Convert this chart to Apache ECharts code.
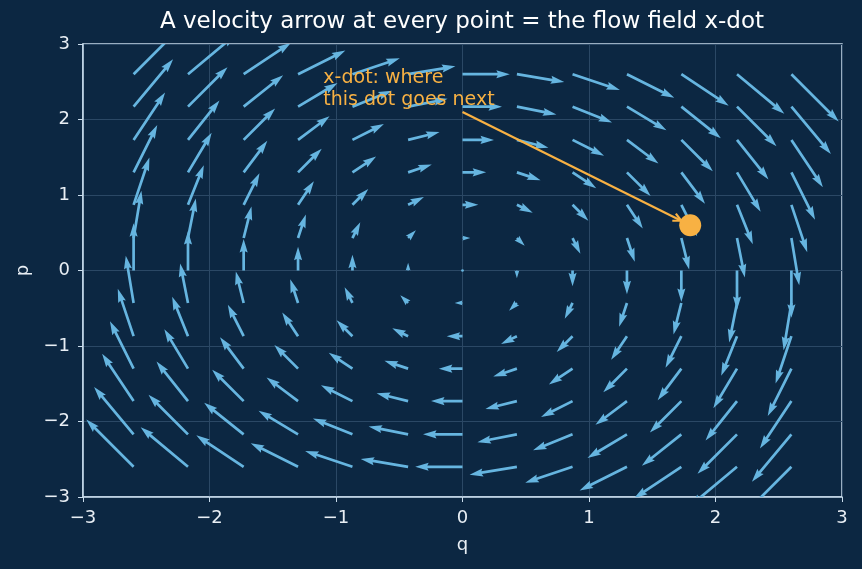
<!DOCTYPE html>
<html>
<head>
<meta charset="utf-8">
<script src="https://cdn.jsdelivr.net/npm/echarts@6/dist/echarts.min.js"></script>
<style>
  html, body { margin: 0; padding: 0; background: #0c2742; }
  #chart { width: 862px; height: 569px; }
</style>
</head>
<body>
<div id="chart"></div>
<script>
// grid of sample points (q across, p up)
var qGrid = [-2.6, -2.17, -1.73, -1.3, -0.87, -0.43, 0, 0.43, 0.87, 1.3, 1.73, 2.17, 2.6];
var pGrid = [-2.6, -2.17, -1.73, -1.3, -0.87, -0.43, 0, 0.43, 0.87, 1.3, 1.73, 2.17, 2.6];
// q-dot (same along a row)
var qDotByRow = [-2.6, -2.17, -1.73, -1.3, -0.87, -0.43, 0, 0.43, 0.87, 1.3, 1.73, 2.17, 2.6];
// p-dot (same down a column)
var pDotByCol = [2.6, 2.17, 1.73, 1.3, 0.87, 0.43, 0, -0.43, -0.87, -1.3, -1.73, -2.17, -2.6];
// the highlighted point and where its label sits
var dotPoint = [1.8, 0.6];
var labelPoint = [-1.1, 2.2];
var arrowStart = [0, 2.1];
var labelText = 'x-dot: where\nthis dot goes next';

var BG = '#0c2742', ARROW = '#66b5e0', ORANGE = '#f8b143', SPINE = '#c9dcec', GRIDC = '#2b4865';
var PX_PER_UNIT = 18.2; // arrow length in pixels for unit speed
var W = 2.7;            // shaft width

var fieldData = [];
for (var i = 0; i < pGrid.length; i++) {
	for (var j = 0; j < qGrid.length; j++) {
		fieldData.push([qGrid[j], pGrid[i], qDotByRow[i], pDotByCol[j]]);
	}
}

// quiver-style arrow polygon, tail at the grid point
function renderArrow(params, api) {
	var tail = api.coord([api.value(0), api.value(1)]);
	var dx = api.value(2) * PX_PER_UNIT, dy = -api.value(3) * PX_PER_UNIT;
	var L = Math.sqrt(dx * dx + dy * dy) / W;
	if (L < 1) {
		return { type: 'circle', shape: { cx: tail[0], cy: tail[1], r: W / 2 }, style: { fill: ARROW } };
	}
	var hl = 5, hal = 4.5, hw = 3, xs, ys;
	if (L >= hl) {
		xs = [0, L - hal, L - hl, L];
		ys = [0.5, 0.5, hw / 2, 0];
	} else {
		var s = L / hl;
		xs = [0, (hl - hal) * s, 0, L];
		ys = [0.5 * s, 0.5 * s, hw / 2 * s, 0];
	}
	var local = [[xs[0], ys[0]], [xs[1], ys[1]], [xs[2], ys[2]], [xs[3], 0],
		[xs[2], -ys[2]], [xs[1], -ys[1]], [xs[0], -ys[0]]];
	var ang = Math.atan2(dy, dx), c = Math.cos(ang), sn = Math.sin(ang);
	var pts = local.map(function (p) {
		var x = p[0] * W, y = p[1] * W;
		return [tail[0] + x * c - y * sn, tail[1] + x * sn + y * c];
	});
	return { type: 'polygon', shape: { points: pts }, style: { fill: ARROW } };
}

// orange annotation: text, line and "->" head stopping at the dot
function renderNote(params, api) {
	var a = api.coord(arrowStart), b = api.coord(dotPoint), t = api.coord(labelPoint);
	var dx = b[0] - a[0], dy = b[1] - a[1], d = Math.sqrt(dx * dx + dy * dy);
	var ux = dx / d, uy = dy / d;
	var tip = [b[0] - ux * 10, b[1] - uy * 10];
	var hl = 8, hw = 4;
	var base = [tip[0] - ux * hl, tip[1] - uy * hl];
	return {
		type: 'group',
		children: [
			{ type: 'line', shape: { x1: a[0], y1: a[1], x2: tip[0], y2: tip[1] },
				style: { stroke: ORANGE, lineWidth: 2.2 } },
			{ type: 'polyline', shape: { points: [
				[base[0] - uy * hw, base[1] + ux * hw], tip, [base[0] + uy * hw, base[1] - ux * hw]] },
				style: { stroke: ORANGE, lineWidth: 2.2, fill: null } },
			{ type: 'text', x: t[0], y: t[1] + 7,
				style: { text: labelText, fill: ORANGE, font: '19px "DejaVu Sans"', align: 'left',
					verticalAlign: 'bottom', lineHeight: 22 } }
		]
	};
}

function minus(v) { return String(v).replace('-', '\u2212'); }

var myChart = echarts.init(document.getElementById('chart'));
var option = {
	backgroundColor: BG,
	animation: false,
	textStyle: { fontFamily: 'DejaVu Sans' },
	title: {
		text: 'A velocity arrow at every point = the flow field x-dot',
		left: 462, top: 11, textAlign: 'center', padding: 0,
		textStyle: { color: '#ffffff', fontSize: 23, fontWeight: 'normal', fontFamily: 'DejaVu Sans' }
	},
	grid: { left: 83, right: 20, top: 44, bottom: 72, show: true, borderColor: SPINE, borderWidth: 1.5, backgroundColor: 'transparent' },
	xAxis: {
		type: 'value', min: -3, max: 3, interval: 1,
		name: 'q', nameLocation: 'middle', nameGap: 39,
		nameTextStyle: { color: '#e8eef4', fontSize: 18 },
		axisLine: { show: true, onZero: false, lineStyle: { color: SPINE, width: 1.5 } },
		axisTick: { show: true, length: 5, lineStyle: { color: SPINE } },
		axisLabel: { color: '#e8eef4', fontSize: 18, margin: 12, formatter: minus },
		splitLine: { show: true, lineStyle: { color: GRIDC, width: 1 } }
	},
	yAxis: {
		type: 'value', min: -3, max: 3, interval: 1,
		name: 'p', nameLocation: 'middle', nameGap: 47, nameRotate: 90,
		nameTextStyle: { color: '#e8eef4', fontSize: 18 },
		axisLine: { show: true, onZero: false, lineStyle: { color: SPINE, width: 1.5 } },
		axisTick: { show: true, length: 5, lineStyle: { color: SPINE } },
		axisLabel: { color: '#e8eef4', fontSize: 18, margin: 13, formatter: minus },
		splitLine: { show: true, lineStyle: { color: GRIDC, width: 1 } }
	},
	series: [
		{ type: 'custom', renderItem: renderArrow, data: fieldData, clip: true, encode: { x: 0, y: 1 }, z: 2 },
		{ type: 'custom', renderItem: renderNote, data: [[arrowStart[0], arrowStart[1]]], clip: false, encode: { x: 0, y: 1 }, z: 3 },
		{ type: 'scatter', data: [dotPoint], symbolSize: 22, itemStyle: { color: ORANGE, opacity: 1 }, z: 4, silent: true }
	]
};
myChart.setOption(option);
</script>
</body>
</html>
